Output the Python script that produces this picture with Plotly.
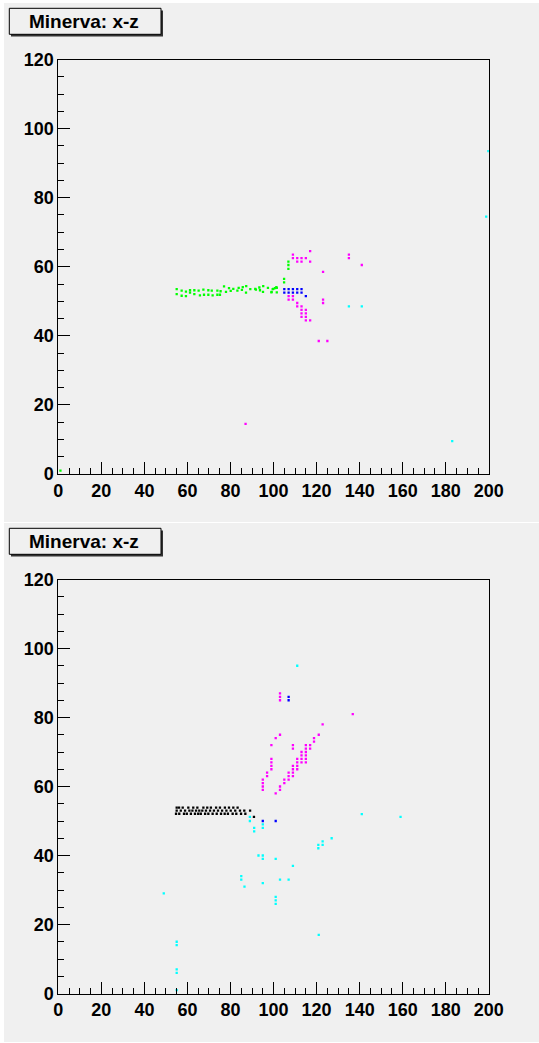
import plotly.graph_objects as go

W, H = 539, 1043

# ---- data (x, z) ----
top_green = [(55.0,53.5),(55.0,52.1),(57.3,53.1),(57.3,51.6),(59.3,52.8),(59.3,51.5),(61.2,53.2),(61.2,52.5),
             (63.2,53.2),(63.2,52.1),(65.2,53.1),(65.8,51.7),(67.4,53.4),(67.7,51.9),(69.7,53.2),(69.7,51.9),
             (71.3,53.1),(71.7,51.7),(73.9,53.1),(73.9,51.9),(75.4,52.9),(75.1,51.9),(77.0,54.3),(77.9,52.7),
             (79.3,53.8),(80.1,53.0),(81.3,53.6),(83.2,53.1),(83.8,53.9),(85.7,54.1),(85.3,53.3),(87.3,54.4),
             (87.2,52.5),(89.2,53.5),(91.5,53.6),(91.8,53.4),(93.4,54.0),(93.7,53.2),(95.2,54.4),(95.1,52.7),
             (97.4,53.9),(99.0,52.6),(99.6,53.5),(100.7,53.8),(101.5,52.6),(101.3,54.1),(99.9,53.6),(101.5,53.9),
             (99.1,52.7),(104.9,56.5),(104.9,55.5),(106.9,61.5),(106.9,60.5),(106.9,59.4),(1.0,1.0)]
top_magenta = [(117,64.5),(109,63.5),(109,62.5),(111,62.5),(113,62.5),(115,62.5),(111,61.5),(113,61.5),
               (117,61.5),(135,63.5),(135,62.5),(141,60.5),(123,58.5),(123,50.5),(123,49.5),(107,51.5),
               (109,51.5),(107,50.5),(109,50.5),(111,49.5),(111,48.5),(113,48.5),(113,47.5),(115,47.5),
               (113,46.5),(115,46.5),(113,45.5),(115,45.5),(115,44.5),(117,44.5),(121,38.5),(125,38.5),
               (87,14.5)]
top_blue = [(105,53.5),(107,53.5),(109,53.5),(111,53.5),(113,53.5),
            (105,52.5),(107,52.5),(109,52.5),(111,52.5),(113,52.5),(115,51.5)]
top_cyan = [(135,48.5),(141,48.5),(183,9.5),(199.8,93.5),(198.8,74.5)]

bot_black = [(55.0,53.9),(56.1,53.9),(57.8,53.9),(60.4,53.9),(62.7,53.9),(64.6,53.9),(67.4,53.9),(69.2,53.9),
             (70.9,53.9),(73.3,53.9),(75.1,53.9),(77.4,53.9),(79.3,53.9),(81.3,53.9),(83.3,53.9),
             (55.0,53.0),(56.9,53.0),(58.9,53.0),(60.9,53.0),(62.3,53.0),(64.0,53.0),(65.5,53.0),(66.9,53.0),
             (68.6,53.0),(70.5,53.0),(72.3,53.0),(74.2,53.0),(76.1,53.0),(78.1,53.0),(80.1,53.0),(82.2,53.0),
             (84.4,53.0),(86.4,53.0),(89.1,53.0),
             (54.7,52.1),(56.2,52.1),(58.4,52.1),(59.7,52.1),(61.6,52.1),(63.5,52.1),(65.0,52.1),(66.2,52.1),
             (68.2,52.1),(69.7,52.1),(71.7,52.1),(73.6,52.1),(75.6,52.1),(77.3,52.1),(78.8,52.1),(81.0,52.1),
             (82.7,52.1),(84.9,52.1),(86.9,52.1),(90.9,51.2)]
bot_magenta = [(103,87),(103,86),(103,85),(136.8,81),(122.8,78),(121,75),(118.8,74),(118.8,73),
               (115,72),(117,72),(115,71),(117,71),(109,72),(109,71),(113,70),(115,70),(113,69),(115,69),
               (111,68),(113,68),(115,68),(111,67),(113,67),(115,67),(109,66),(111,66),(109,65),(111,65),
               (107,64),(109,64),(107,63),(109,63),(105,62),(107,62),(105,61),(103,60),(103,59),(101,58),
               (103,75),(101,74),(99,72),(99,68),(99,67),(99,66),(99,65),(97,64),(97,63),
               (95,62),(95,61),(95,60),(95,59)]
bot_blue = [(107,86),(107,85),(95,50),(101,50)]
bot_cyan = [(111,95),(141,52),(159,51.2),(127,45),(122.8,44.1),(120.8,43.1),(122.8,43.1),(120.8,42.1),
            (89,51.2),(89,50),(91,48),(91,47),(95,49),(95,48),(93,40),(95,40),(95,39),(101,39),(109,37),
            (95,32),(103,33),(107,33),(101,28),(101,27),(101,26),(121,17),(85,34),(85,33),(86.5,31),
            (49,29),(55,15),(55,14),(55,7),(55,6),(55,1)]

title = "Minerva: x-z"
xticks = [0, 20, 40, 60, 80, 100, 120, 140, 160, 180, 200]
yticks = [0, 20, 40, 60, 80, 100, 120]

PAD = "#f0f0f0"
FONT = "Liberation Sans, Arial, sans-serif"


def px(x):
    return x / W


def py(y):
    return 1 - y / H


fig = go.Figure()


def add_points(pts, color, xa, ya):
    fig.add_trace(go.Scatter(
        x=[p[0] for p in pts], y=[p[1] for p in pts], mode="markers",
        marker=dict(symbol="square", size=2.3, color=color, line=dict(width=0)),
        xaxis=xa, yaxis=ya, showlegend=False, hoverinfo="skip"))


add_points(top_green, "#00ff00", "x", "y")
add_points(top_magenta, "#ff00ff", "x", "y")
add_points(top_blue, "#0000ff", "x", "y")
add_points(top_cyan, "#00ffff", "x", "y")
add_points(bot_black, "#000000", "x2", "y2")
add_points(bot_magenta, "#ff00ff", "x2", "y2")
add_points(bot_blue, "#0000ff", "x2", "y2")
add_points(bot_cyan, "#00ffff", "x2", "y2")

xdom = [px(58.3), px(488.8)]
axis_common = dict(
    showgrid=False, zeroline=False, showline=True, linecolor="black", linewidth=1,
    mirror=True, ticks="inside", ticklen=12, tickcolor="black", tickwidth=1, automargin=False,
    tickfont=dict(family=FONT, size=18, color="black", weight="bold"),
    minor=dict(ticks="inside", ticklen=6, dtick=5, tickcolor="black"),
)
fig.update_layout(
    width=W, height=H, margin=dict(l=0, r=0, t=0, b=0, pad=0), autosize=False,
    paper_bgcolor="white", plot_bgcolor=PAD,
    xaxis=dict(domain=xdom, range=[0, 200], tickvals=xticks, anchor="y", **axis_common),
    yaxis=dict(domain=[py(474), py(59.5)], range=[0, 120], tickvals=yticks, anchor="x", **axis_common),
    xaxis2=dict(domain=xdom, range=[0, 200], tickvals=xticks, anchor="y2", **axis_common),
    yaxis2=dict(domain=[py(993.5), py(579.5)], range=[0, 120], tickvals=yticks, anchor="x2", **axis_common),
)

shapes = []
annotations = []
for off in (0, 520):
    # pad background
    shapes.append(dict(type="rect", xref="paper", yref="paper", layer="below",
                       x0=px(4), x1=px(539), y0=py(off + 3), y1=py(off + 522),
                       fillcolor=PAD, line=dict(width=0)))
    # title box with shadow
    shapes.append(dict(type="rect", xref="paper", yref="paper",
                       x0=px(11), x1=px(163), y0=py(off + 10.5), y1=py(off + 36.5),
                       fillcolor="#333333", line=dict(width=0)))
    shapes.append(dict(type="rect", xref="paper", yref="paper",
                       x0=px(9.3), x1=px(161), y0=py(off + 8.3), y1=py(off + 34.3),
                       fillcolor=PAD, line=dict(color="black", width=1)))
    annotations.append(dict(text=title, xref="paper", yref="paper", x=px(84), y=py(off + 21.5),
                            xanchor="center", yanchor="middle", showarrow=False,
                            font=dict(family=FONT, size=19, color="black", weight="bold")))

fig.update_layout(shapes=shapes, annotations=annotations)
fig.write_html("out.html", config={"displayModeBar": False},
               post_script="document.body.style.margin='0';document.body.style.overflow='hidden';")
